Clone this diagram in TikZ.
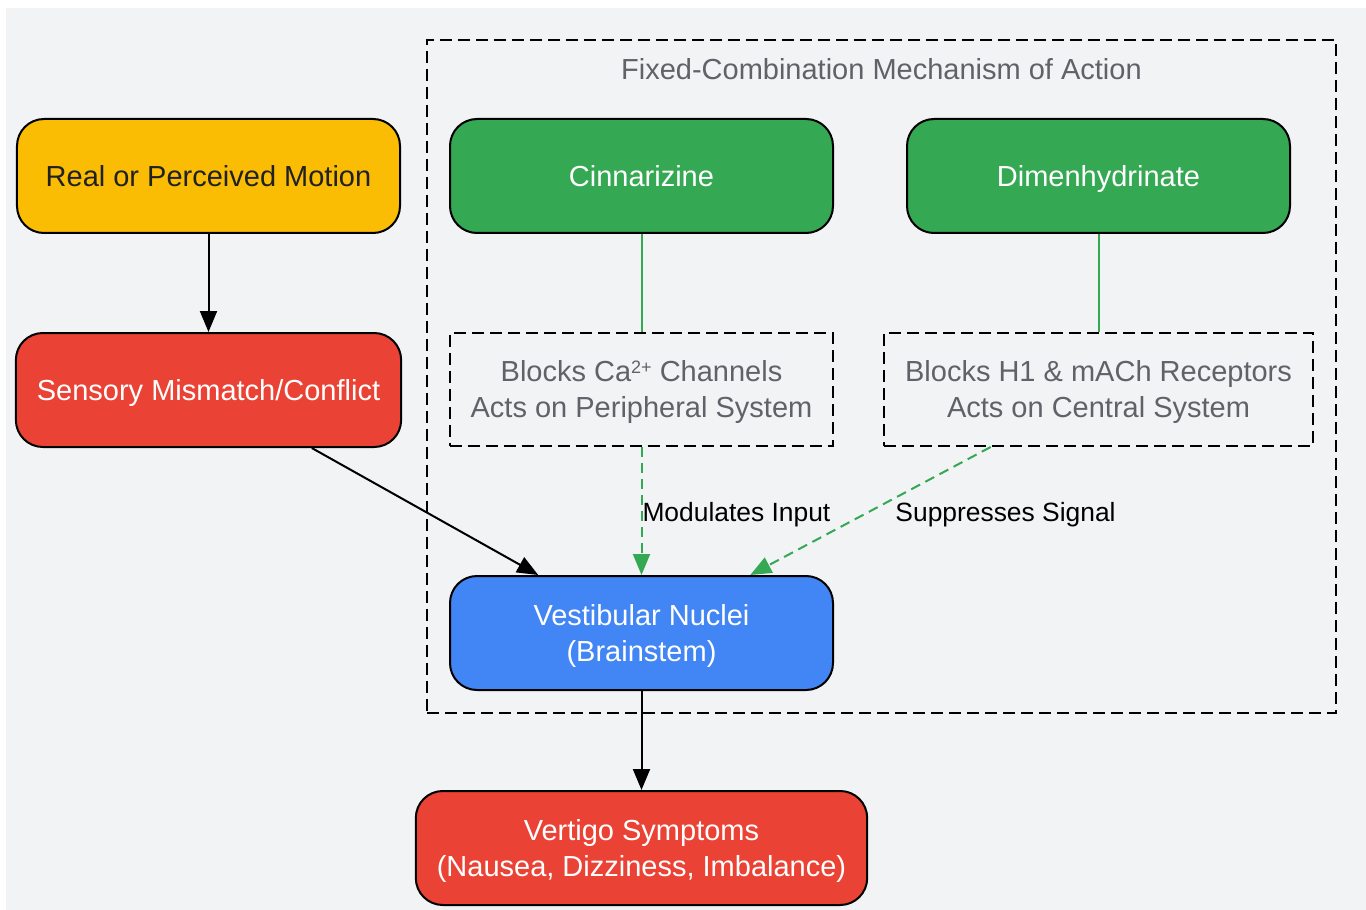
\documentclass[tikz,border=0pt]{standalone}
\usepackage{fontspec}
\setmainfont{Liberation Sans}
\usetikzlibrary{arrows.meta, positioning, fit, calc, backgrounds}
\definecolor{motionyel}{RGB}{251,188,4}
\definecolor{alertred}{RGB}{234,67,53}
\definecolor{drugreen}{RGB}{52,168,83}
\definecolor{brainblue}{RGB}{66,133,244}
\definecolor{canvas}{RGB}{241,243,245}
\definecolor{muted}{RGB}{95,99,104}
\definecolor{textdark}{RGB}{32,33,36}
% strut that centres the capitals in a node
\newcommand{\capstrut}{\rule[-3pt]{0pt}{16.4pt}}
\newcommand{\supsmall}[1]{{\fontsize{9}{9}\selectfont\raisebox{4pt}{#1}}}
\tikzset{
  block/.style={rectangle, rounded corners=13.5pt, draw=black, line width=1pt,
                minimum width=191.5pt, minimum height=57pt, inner xsep=10.5pt,
                align=center, text=white, font=\fontsize{14.5}{18}\selectfont,
                execute at begin node=\capstrut, execute at end node=\capstrut},
  effect/.style={rectangle, draw=black, line width=1pt, dash pattern=on 6pt off 3pt,
                 minimum width=191.5pt, minimum height=56.5pt, inner xsep=10.5pt,
                 align=center, text=muted, font=\fontsize{14.5}{18}\selectfont,
                 execute at begin node=\capstrut, execute at end node=\capstrut},
  cluster/.style={rectangle, draw=black, line width=1pt, dash pattern=on 6pt off 3pt},
  heading/.style={text=muted, font=\fontsize{14.5}{18}\selectfont,
                  execute at begin node=\capstrut},
  arrow/.style={-{Triangle[length=10.5pt, width=8.5pt]}, line width=1pt},
  link/.style={line width=1pt, color=drugreen},
  garrow/.style={-{Triangle[length=10.5pt, width=8.5pt]}, line width=1pt, color=drugreen,
                 dash pattern=on 5pt off 3pt},
  edgelabel/.style={font=\fontsize{13.2}{16}\selectfont, text=black, anchor=west,
                    inner xsep=0pt, yshift=-2pt},
}
\begin{document}
\begin{tikzpicture}[node distance=49pt]
        \node[block, fill=motionyel, text=textdark] (motion) {Real or Perceived Motion};
        \node[block, below=of motion, fill=alertred] (mismatch) {Sensory Mismatch/Conflict};
        \node[block, right=24pt of motion, fill=drugreen] (cinna) {Cinnarizine};
        \node[block, right=36pt of cinna, fill=drugreen] (dimen) {Dimenhydrinate};

        \node[effect, below=of cinna] (calcium) {\capstrut Blocks Ca\supsmall{2+} Channels\\Acts on Peripheral System};
        \node[effect, below=of dimen] (histamine) {\capstrut Blocks H1 \& mACh Receptors\\Acts on Central System};

        \node[block, below=64pt of calcium, fill=brainblue] (vestib) {\capstrut Vestibular Nuclei\\(Brainstem)};
        \node[block, below=49.5pt of vestib, fill=alertred] (vertigo) {\capstrut Vertigo Symptoms\\(Nausea, Dizziness, Imbalance)};

        % dashed group round the two drugs
        \coordinate (clTop) at ($(cinna.north)+(0,28pt)$);
        \node[cluster, fit=(clTop)(cinna)(histamine)(vestib), inner sep=11pt] (mech) {};
        \node[heading] (mechTitle) at ($(mech.north)+(0,-15pt)$) {Fixed-Combination Mechanism of Action};

        \draw[arrow] (motion) -- (mismatch);
        \draw[arrow] (mismatch) -- (vestib);
        \draw[link] (cinna) -- (calcium);
        \draw[link] (dimen) -- (histamine);
        \draw[garrow] (calcium) -- node[edgelabel, midway] {Modulates Input} (vestib);
        \draw[garrow] (histamine) -- node[edgelabel, midway, xshift=12pt] {Suppresses Signal} (vestib);
        \draw[arrow] (vestib) -- (vertigo);

        \begin{scope}[on background layer]
          \fill[canvas] ($(motion.center)+(-101.25pt,84pt)$) rectangle ($(motion.center)+(578.75pt,-367pt)$);
        \end{scope}
        \useasboundingbox ($(motion.center)+(-104.25pt,88pt)$) rectangle ($(motion.center)+(578.75pt,-367pt)$);
      \end{tikzpicture}
\end{document}
